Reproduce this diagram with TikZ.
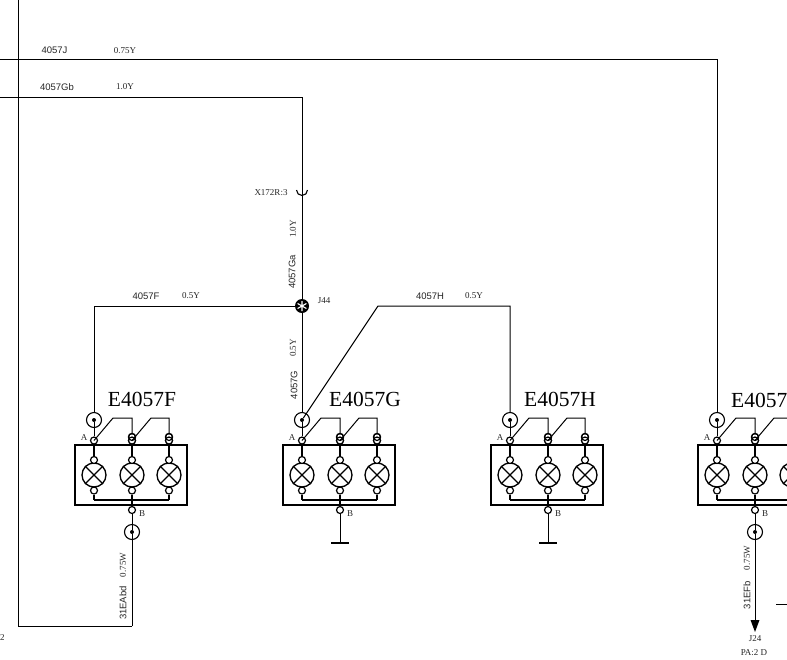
\documentclass[tikz,border=0pt]{standalone}
\usepackage{fontspec}
\setmainfont{Liberation Serif}
\newfontfamily\arialf{Liberation Sans}
\tikzset{
  wire/.style={line width=1pt,black},
  modwire/.style={line width=1.2pt,black},
  boxline/.style={line width=1.4pt,black},
  term/.style={circle,draw,line width=1.2pt,fill=white,inner sep=0pt,minimum size=7pt},
  bigterm/.style={circle,draw,line width=1.1pt,fill=white,inner sep=0pt,minimum size=15pt},
  lampc/.style={circle,draw,line width=1.3pt,fill=white,inner sep=0pt,minimum size=24pt},
  dotc/.style={circle,fill=black,inner sep=0pt,minimum size=4pt},
  tag/.style={inner sep=0pt,font=\fontsize{9.5}{10}\selectfont\arialf,text=black!85},
  val/.style={inner sep=0pt,font=\fontsize{9}{10}\selectfont,text=black!85},
  small/.style={inner sep=0pt,font=\fontsize{9}{10}\selectfont,text=black!85},
  title/.style={inner sep=0pt,font=\fontsize{21.5}{24}\selectfont},
}
% #1 prefix, #2 x of first column
\newcommand{\lampmodule}[2]{%
\begin{scope}[shift={(#2,0)}]
  \node[draw,boxline,minimum width=112pt,minimum height=60pt,inner sep=0pt] (#1box) at (37,475) {};
  \foreach \c/\xx in {a/0,b/38,c/75}{
    \coordinate (#1bus\c) at (\xx,500);
    \node[lampc] (#1lamp\c) at (\xx,475) {};
    \draw[line width=1.3pt] (#1lamp\c.45) -- (#1lamp\c.225) (#1lamp\c.135) -- (#1lamp\c.315);
    \node[term] (#1in\c) at (\xx,460) {};
    \node[term] (#1out\c) at (\xx,490.5) {};
    \node[term] (#1top\c) at (\xx,440.5) {};
    \draw[modwire] (#1top\c) -- (#1in\c);
    \draw[modwire] (#1out\c) -- (#1bus\c);
  }
  \draw[modwire] (#1busa) -- (#1busc);
  \node[term] (#1upb) at (38,437) {};
  \node[term] (#1upc) at (75,437) {};
  \node[term] (#1topB) at (38,440.5) {};
  \node[term] (#1topC) at (75,440.5) {};
  \node[term,fill=none] at (38,437) {};
  \node[term,fill=none] at (75,437) {};
  \coordinate (#1k1) at (19,418);
  \coordinate (#1k2) at (57,418);
  \draw[wire] (#1topa.center) -- (#1k1) -| (#1upb.north);
  \draw[wire] (#1topB.center) -- (#1k2) -| (#1upc.north);
  \node[term] (#1B) at (38,510) {};
  \draw[modwire] (#1busb) -- (#1B);
  \node[small,anchor=center] at (-10,438) {A};
  \node[small,anchor=center] at (48,514) {B};
  \node[bigterm] (#1big) at (0,420) {};
  \node[dotc] (#1bigdot) at (0,420) {};
  \draw[wire] (#1bigdot) -- (#1topa);
\end{scope}}
\begin{document}
\begin{tikzpicture}[x=1pt,y=-1pt]
\useasboundingbox (0,0) rectangle (787,659);
\fill[white] (0,0) rectangle (787,659);

\lampmodule{F}{94}
\lampmodule{G}{302}
\lampmodule{H}{510}
\lampmodule{J}{717}

% free ends
\coordinate (topL) at (18,0);
\coordinate (leftJ) at (0,59);
\coordinate (leftG) at (0,97);
\coordinate (cornerJ) at (717,59);
\coordinate (cornerG) at (302,97);
\coordinate (botL) at (18,626);
\coordinate (botF) at (132,626);
\coordinate (kneeF) at (94,306);
\coordinate (kneeH1) at (378,306);
\coordinate (kneeH2) at (510,306);

% junction J44
\node[circle,fill=black,inner sep=0pt,minimum size=14pt] (J44) at (302,306) {};

% wires
\draw[wire] (leftJ) -- (cornerJ) -- (Jbig);
\draw[wire] (leftG) -- (cornerG) -- (J44) -- (Gbig);
\draw[wire] (J44) -- (kneeF) -- (Fbig);
\draw[wire] (Gbigdot) -- (kneeH1) -- (kneeH2) -- (Hbig);
\draw[wire] (topL) -- (botL) -- (botF);

\draw[line width=1.1pt,white] (J44.center) -- ++(0,-5) (J44.center) -- ++(0,5)
  (J44.center) -- ++(4.4,-2.5) (J44.center) -- ++(-4.4,-2.5)
  (J44.center) -- ++(4.4,2.5) (J44.center) -- ++(-4.4,2.5);

% connector X172R:3
\draw[line width=1.1pt] (296.5,190) arc[start angle=180,end angle=0,x radius=5.5,y radius=5.5];

% lower big terminals
\node[bigterm] (Fb2) at (132,532) {};
\node[dotc] (Fb2dot) at (132,532) {};
\draw[wire] (botF) -- (Fb2dot);
\draw[wire] (FB) -- (Fb2dot);
\node[bigterm] (Jb2) at (755,532) {};
\node[dotc] (Jb2dot) at (755,532) {};
\draw[wire] (JB) -- (Jb2dot);

% grounds
\coordinate (Gg) at (340,543);
\coordinate (Hg) at (548,543);
\draw[wire] (GB) -- (Gg);
\draw[wire] (HB) -- (Hg);
\draw[line width=1.2pt] (331,543) -- (349,543);
\draw[line width=1.2pt] (539,543) -- (557,543);

% arrow to J24
\coordinate (Jtip) at (755,632);
\draw[wire] (Jb2dot) -- (755,622);
\fill (750.5,620) -- (759.5,620) -- (Jtip) -- cycle;
\draw[wire] (776,604.5) -- (787,604.5);

% titles
\node[title] at (142,399) {E4057F};
\node[title] at (365,399) {E4057G};
\node[title] at (560,399) {E4057H};
\node[title,anchor=west] at (731,400) {E4057};

% labels
\node[tag] at (54.5,50.5) {4057J};
\node[val] at (125,50.5) {0.75Y};
\node[tag] at (57,87) {4057Gb};
\node[val] at (125,87) {1.0Y};
\node[tag] at (146,296) {4057F};
\node[val] at (191,296) {0.5Y};
\node[tag] at (430,296) {4057H};
\node[val] at (474,296) {0.5Y};
\node[val] at (271,193) {X172R:3};
\node[val] at (324,301) {J44};
\node[val,rotate=90] at (293,229) {1.0Y};
\node[tag,rotate=90] at (292,272) {4057Ga};
\node[val,rotate=90] at (293,348) {0.5Y};
\node[tag,rotate=90] at (294,385) {4057G};
\node[tag,rotate=90] at (123,603) {31EAbd};
\node[val,rotate=90] at (123,565) {0.75W};
\node[tag,rotate=90] at (747,595) {31EFb};
\node[val,rotate=90] at (747,558) {0.75W};
\node[val] at (755,639) {J24};
\node[val] at (754,653) {PA:2 D};
\node[val,anchor=west] at (0,638) {2};
\end{tikzpicture}
\end{document}
